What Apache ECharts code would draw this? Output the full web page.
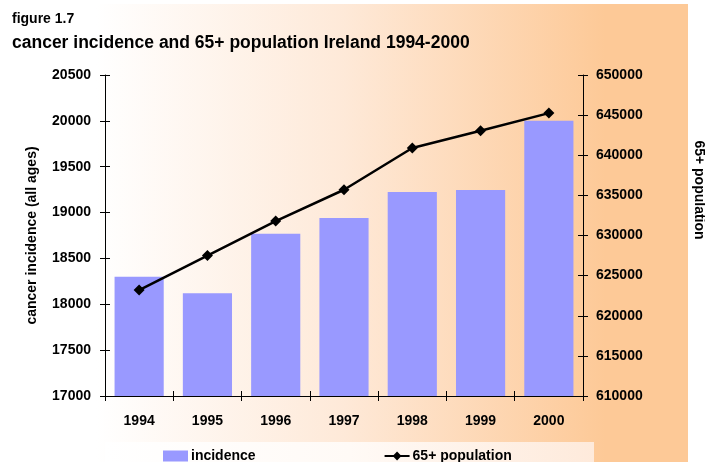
<!DOCTYPE html>
<html>
<head>
<meta charset="utf-8">
<script src="https://cdn.jsdelivr.net/npm/echarts@6/dist/echarts.min.js"></script>
<style>
  html, body { margin: 0; padding: 0; background: #fff; }
  #main { width: 705px; height: 462px; }
</style>
</head>
<body>
<div id="main"></div>
<script>
var years = ['1994', '1995', '1996', '1997', '1998', '1999', '2000'];
var incidence = [18300, 18120, 18770, 18940, 19225, 19245, 20000];
var population = [623200, 627500, 631800, 635700, 640900, 643050, 645250];

var myChart = echarts.init(document.getElementById('main'));

var font = 'Liberation Sans, Arial, sans-serif';
var labelStyle = { color: '#000', fontWeight: 'bold', fontSize: 14, fontFamily: font };
var axisLine = { show: true, lineStyle: { color: '#000', width: 1 } };
var tickOut = { show: true, length: 5, lineStyle: { color: '#000' } };
var tickIn = { show: true, inside: true, length: 5, lineStyle: { color: '#000' } };
var plain = function (v) { return String(v); };

option = {
    animation: false,
    graphic: [
        {   // peach background
            type: 'rect', z: -10, silent: true,
            shape: { x: 0, y: 4, width: 688, height: 458 },
            style: {
                fill: new echarts.graphic.LinearGradient(0, 0, 1, 0, [
                    { offset: 0, color: '#ffffff' },
                    { offset: 0.14, color: '#ffffff' },
                    { offset: 0.5, color: '#fee9d8' },
                    { offset: 0.88, color: '#fdc997' },
                    { offset: 1, color: '#fdc997' }
                ])
            }
        },
        {   // legend box
            type: 'rect', z: -9, silent: true,
            shape: { x: 105, y: 442, width: 489, height: 20 },
            style: {
                fill: new echarts.graphic.LinearGradient(0, 0, 1, 0, [
                    { offset: 0, color: '#ffffff' },
                    { offset: 0.5, color: '#fffaf6' },
                    { offset: 1, color: '#feeadb' }
                ])
            }
        },
        {
            type: 'text', left: 12, top: 12,
            style: { text: 'figure 1.7', fill: '#000', font: 'bold 14px ' + font }
        },
        {
            type: 'text', left: 12, top: 34,
            style: { text: 'cancer incidence and 65+ population Ireland 1994-2000', fill: '#000', font: 'bold 17.5px ' + font }
        },
        {
            type: 'text', x: 699, y: 190, rotation: -Math.PI / 2,
            style: { text: '65+ population', fill: '#000', font: 'bold 14px ' + font, align: 'center', verticalAlign: 'middle' }
        }
    ],
    legend: {
        left: 163,
        top: 449,
        padding: 0,
        itemGap: 128,
        itemWidth: 25,
        itemHeight: 11,
        textStyle: Object.assign({ padding: [0, 0, 0, -2] }, labelStyle),
        data: [
            { name: 'incidence', icon: 'rect' },
            { name: '65+ population' }
        ]
    },
    grid: {
        left: 105,
        right: 122,
        top: 75,
        bottom: 66
    },
    xAxis: [
        {
            type: 'category',
            data: years,
            axisLine: axisLine,
            axisTick: tickOut,
            axisLabel: Object.assign({ margin: 18 }, labelStyle)
        },
        {
            type: 'category',
            data: years,
            position: 'bottom',
            axisLine: { show: false },
            axisTick: tickIn,
            axisLabel: { show: false }
        }
    ],
    yAxis: [
        {
            type: 'value',
            min: 17000, max: 20500, interval: 500,
            name: 'cancer incidence (all ages)',
            nameLocation: 'middle',
            nameGap: 66,
            nameTextStyle: labelStyle,
            axisLine: axisLine,
            axisTick: tickOut,
            splitLine: { show: false },
            axisLabel: Object.assign({ margin: 14, formatter: plain }, labelStyle)
        },
        {
            type: 'value',
            position: 'right',
            min: 610000, max: 650000, interval: 5000,
            axisLine: axisLine,
            axisTick: tickOut,
            splitLine: { show: false },
            axisLabel: Object.assign({ margin: 13, formatter: plain }, labelStyle)
        },
        {
            type: 'value', position: 'left',
            min: 17000, max: 20500, interval: 500,
            axisLine: { show: false }, axisTick: tickIn,
            splitLine: { show: false }, axisLabel: { show: false }
        },
        {
            type: 'value', position: 'right',
            min: 610000, max: 650000, interval: 5000,
            axisLine: { show: false }, axisTick: tickIn,
            splitLine: { show: false }, axisLabel: { show: false }
        }
    ],
    series: [
        {
            name: 'incidence',
            type: 'bar',
            barCategoryGap: '28%',
            itemStyle: { color: '#9999ff' },
            data: incidence
        },
        {
            name: '65+ population',
            type: 'line',
            yAxisIndex: 1,
            symbol: 'diamond',
            symbolSize: 11,
            lineStyle: { color: '#000', width: 2.5 },
            itemStyle: { color: '#000' },
            z: 5,
            data: population
        }
    ]
};

myChart.setOption(option);
</script>
</body>
</html>
